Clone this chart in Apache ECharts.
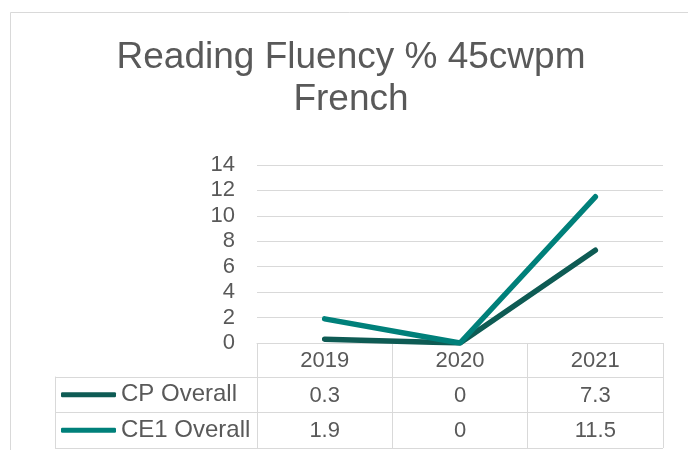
<!DOCTYPE html>
<html>
<head>
<meta charset="utf-8">
<script src="https://cdn.jsdelivr.net/npm/echarts@6/dist/echarts.min.js"></script>
<style>
html,body{margin:0;padding:0;background:#fff;}
#chart{width:688px;height:450px;}
</style>
</head>
<body>
<div id="chart"></div>
<script>
const titleText = 'Reading Fluency % 45cwpm\nFrench';
const years = ['2019', '2020', '2021'];
const seriesNames = ['CP Overall', 'CE1 Overall'];
const cpOverall = [0.3, 0, 7.3];
const ce1Overall = [1.9, 0, 11.5];
const yTicks = [0, 2, 4, 6, 8, 10, 12, 14];

const gray = '#d9d9d9';
const textGray = '#595959';
const font = "'Liberation Sans', Arial, sans-serif";
const colors = ['#0e5b54', '#00807a'];
const allValues = [cpOverall, ce1Overall];

const tableTop = 377;
const rowH = 35.5;

const chart = echarts.init(document.getElementById('chart'), null, {renderer: 'canvas'});
chart.setOption({
  animation: false,
  backgroundColor: '#fff',
  textStyle: {fontFamily: font},
  title: {
    text: titleText,
    left: 351,
    textAlign: 'center',
    top: 37,
    padding: 0,
    textStyle: {fontSize: 37, fontWeight: 'normal', color: textGray, lineHeight: 42, fontFamily: font}
  },
  graphic: [{
    type: 'rect',
    shape: {x: 10.5, y: 12.5, width: 700, height: 460},
    style: {fill: 'none', stroke: gray, lineWidth: 1},
    silent: true, z: -10
  }],
  legend: seriesNames.map((name, i) => ({
    orient: 'vertical',
    left: 61,
    top: tableTop + rowH * i + (rowH - 24) / 2,
    padding: 0,
    itemWidth: 55,
    itemHeight: 5,
    icon: 'roundRect',
    selectedMode: false,
    data: [name],
    textStyle: {fontSize: 24, color: textGray, lineHeight: 24, fontFamily: font}
  })),
  grid: [
    {left: 257, right: 25, top: 165, height: 178},
    {left: 55, right: 25, top: tableTop, height: rowH * 2}
  ],
  xAxis: [
    {
      type: 'category',
      gridIndex: 0,
      data: years,
      boundaryGap: true,
      axisLine: {show: true, lineStyle: {color: gray, width: 1}},
      axisTick: {show: true, interval: 0, alignWithLabel: false, length: 105, lineStyle: {color: gray, width: 1}},
      splitLine: {show: false},
      axisLabel: {
        interval: 0,
        margin: 0,
        color: textGray,
        fontSize: 22,
        lineHeight: 35,
        formatter: function (v, idx) {
          return [v].concat(allValues.map(a => String(a[idx]))).join('\n');
        }
      }
    },
    {
      type: 'value',
      gridIndex: 1,
      min: 0,
      max: 1,
      show: false
    }
  ],
  yAxis: [
    {
      type: 'value',
      gridIndex: 0,
      min: yTicks[0],
      max: yTicks[yTicks.length - 1],
      interval: yTicks[1] - yTicks[0],
      axisLine: {show: false},
      axisTick: {show: false},
      splitLine: {show: true, lineStyle: {color: gray, width: 1}},
      axisLabel: {color: textGray, fontSize: 22, margin: 22}
    },
    {
      type: 'category',
      gridIndex: 1,
      data: seriesNames,
      inverse: true,
      boundaryGap: true,
      axisLine: {show: true, lineStyle: {color: gray, width: 1}},
      axisTick: {show: false},
      axisLabel: {show: false},
      splitLine: {show: true, lineStyle: {color: gray, width: 1}}
    }
  ],
  series: seriesNames.map((name, i) => ({
    name: name,
    type: 'line',
    xAxisIndex: 0,
    yAxisIndex: 0,
    data: allValues[i],
    color: colors[i],
    showSymbol: false,
    symbol: 'none',
    lineStyle: {width: 5.5, color: colors[i], cap: 'round', join: 'round'},
    z: 3 + i
  }))
});
</script>
</body>
</html>
